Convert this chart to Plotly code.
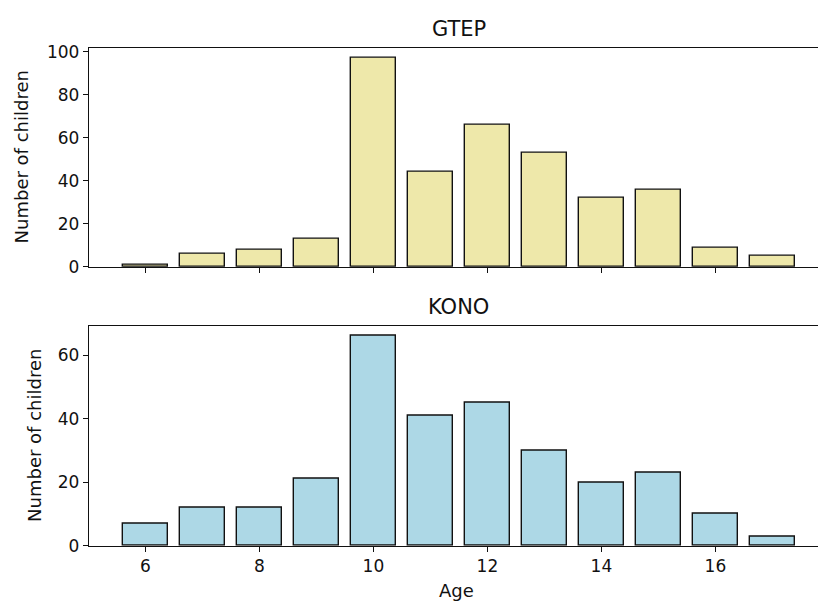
import plotly.graph_objects as go
from plotly.subplots import make_subplots

ages = [6, 7, 8, 9, 10, 11, 12, 13, 14, 15, 16, 17]
gtep_counts = [1, 6, 8, 13, 97, 44, 66, 53, 32, 36, 9, 5]
kono_counts = [7, 12, 12, 21, 66, 41, 45, 30, 20, 23, 10, 3]
panel_titles = ["GTEP", "KONO"]
x_ticks = [6, 8, 10, 12, 14, 16]

W, H = 818, 610
FONT = "DejaVu Sans"

fig = make_subplots(rows=2, cols=1, shared_xaxes=False)

fig.add_trace(go.Bar(x=ages, y=gtep_counts, width=0.8,
                     marker=dict(color="#EEE8AA", line=dict(color="#111", width=1.4)),
                     showlegend=False), row=1, col=1)
fig.add_trace(go.Bar(x=ages, y=kono_counts, width=0.8,
                     marker=dict(color="#ADD8E6", line=dict(color="#111", width=1.4)),
                     showlegend=False), row=2, col=1)

left_px = 89
xdom = [left_px / W, 1.0]
top_dom = [1 - 268 / H, 1 - 43 / H]
bot_dom = [1 - 554.3 / H, 1 - 328.3 / H]

xr = [5.01, 5.01 + (W - left_px) / 57.0]

common_x = dict(range=xr, tickvals=x_ticks, ticks="outside", ticklen=5, tickwidth=1.2,
                tickcolor="#111", showline=True, linecolor="#111", linewidth=1.4,
                mirror=True, showgrid=False, zeroline=False,
                tickfont=dict(family=FONT, size=17, color="#111"))
common_y = dict(ticks="outside", ticklen=5, tickwidth=1.2, tickcolor="#111",
                showline=True, linecolor="#111", linewidth=1.4, mirror=False,
                showgrid=False, zeroline=False,
                tickfont=dict(family=FONT, size=17, color="#111"))

fig.update_layout(
    xaxis=dict(domain=xdom, showticklabels=False, anchor="y", **common_x),
    xaxis2=dict(domain=xdom, showticklabels=True, anchor="y2", **common_x),
    yaxis=dict(domain=top_dom, range=[0, max(gtep_counts) * 1.05],
               tickvals=[0, 20, 40, 60, 80, 100], anchor="x", **common_y),
    yaxis2=dict(domain=bot_dom, range=[0, max(kono_counts) * 1.05],
                tickvals=[0, 20, 40, 60], anchor="x2", **common_y),
    width=W, height=H,
    margin=dict(l=0, r=0, t=0, b=0),
    plot_bgcolor="white", paper_bgcolor="white",
    bargap=0,
)

center_x = (5.01 + 17.99) / 2

annos = [
    dict(text=panel_titles[0], x=center_x, xref="x", y=1 - 24 / H, yref="paper",
         showarrow=False, font=dict(family=FONT, size=21, color="#111"),
         xanchor="center", yanchor="middle"),
    dict(text=panel_titles[1], x=center_x, xref="x2", y=1 - 309 / H, yref="paper",
         showarrow=False, font=dict(family=FONT, size=21, color="#111"),
         xanchor="center", yanchor="middle"),
    dict(text="Age", x=center_x - 0.05, xref="x2", y=1 - 600 / H, yref="paper",
         showarrow=False, font=dict(family=FONT, size=18, color="#111"),
         xanchor="center", yanchor="middle"),
    dict(text="Number of children", x=21.5 / W, xref="paper", y=1 - 155 / H, yref="paper",
         showarrow=False, textangle=-90, font=dict(family=FONT, size=18, color="#111"),
         xanchor="center", yanchor="middle"),
    dict(text="Number of children", x=34.5 / W, xref="paper", y=1 - 441 / H, yref="paper",
         showarrow=False, textangle=-90, font=dict(family=FONT, size=18, color="#111"),
         xanchor="center", yanchor="middle"),
]
fig.update_layout(annotations=annos)

fig.write_html("out.html")
